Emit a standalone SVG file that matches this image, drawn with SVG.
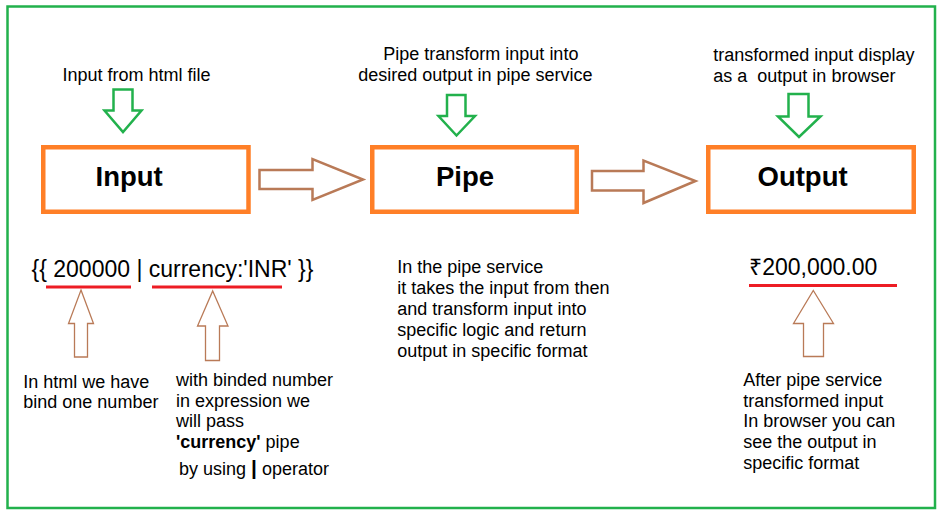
<svg xmlns="http://www.w3.org/2000/svg" width="944" height="518" viewBox="0 0 944 518">
<style>
text{font-family:"Liberation Sans",Arial,"Noto Sans",sans-serif;fill:#000}
.t{font-size:18px}
.big{font-size:23px}
.h{font-size:27.5px;font-weight:bold}
.box{fill:#fff;stroke:#ff7f27;stroke-width:4.5}
.ga{fill:#fff;stroke:#22b14c;stroke-width:2.5}
.ba{fill:#fff;stroke:#b97a57;stroke-width:2.5}
.ua{fill:#fff;stroke:#b97a57;stroke-width:1.3}
.red{stroke:#ed1c24;stroke-width:3}
</style>
<rect x="0" y="0" width="944" height="518" fill="#fff"/>
<rect x="7.5" y="6.5" width="927.5" height="501.5" fill="none" stroke="#22b14c" stroke-width="2.5"/>

<g id="input">
<rect class="box" x="43.25" y="147.25" width="205.25" height="64.5"/>
<text class="h" x="95.5" y="185.5">Input</text>
</g>
<g id="pipe">
<rect class="box" x="372.25" y="147.25" width="204.5" height="64.5"/>
<text class="h" x="436" y="185.5">Pipe</text>
</g>
<g id="output">
<rect class="box" x="708.25" y="147.25" width="205.5" height="64.5"/>
<text class="h" x="757.5" y="185.5">Output</text>
</g>

<g id="connectors">
<polygon class="ga" points="113.5,89.5 132.5,89.5 132.5,110.5 141.5,110.5 123,132 104.5,110.5 113.5,110.5"/>
<polygon class="ga" points="447,95 465.5,95 465.5,116 475,116 456.5,135.5 438.5,116 447,116"/>
<polygon class="ga" points="788.5,94 808.5,94 808.5,116.5 820.5,116.5 799,137 778,116.5 788.5,116.5"/>
<polygon class="ba" points="259.5,170 312.5,170 312.5,159 363,179.5 312.5,200 312.5,189 259.5,189"/>
<polygon class="ba" points="592,171 643.5,171 643.5,160.5 695.5,181 643.5,203 643.5,190.5 592,190.5"/>
<polygon class="ua" points="81,290 93.5,323.5 87.5,323.5 87.5,357 74.5,357 74.5,323.5 68.5,323.5"/>
<polygon class="ua" points="212.7,291 228,326 219.5,326 219.5,360.5 205.5,360.5 205.5,326 197.5,326"/>
<polygon class="ua" points="813.3,290.5 833.5,323.5 823.5,323.5 823.5,356.5 803.5,356.5 803.5,323.5 793.5,323.5"/>
<line class="red" x1="46" y1="287" x2="131" y2="287"/>
<line class="red" x1="152" y1="287" x2="282" y2="287"/>
<line class="red" x1="749" y1="285.5" x2="897" y2="285.5"/>
</g>

<g id="labels">
<text class="t" x="62.5" y="80.5">Input from html file</text>
<text class="t" x="383.3" y="60">Pipe transform input into</text>
<text class="t" x="358.3" y="80.5">desired output in pipe service</text>
<text class="t" x="713.3" y="61">transformed input display</text>
<text class="t" x="713.3" y="81.5" xml:space="preserve">as a  output in browser</text>

<text class="big" x="31.5" y="276.5">{{ 200000 | currency:'INR' }}</text>
<text class="big" x="749" y="275">₹200,000.00</text>

<text class="t" x="23.3" y="387.5">In html we have</text>
<text class="t" x="23.3" y="408.3">bind one number</text>

<text class="t" x="176" y="386">with binded number</text>
<text class="t" x="176" y="406.7">in expression we</text>
<text class="t" x="176" y="427.3">will pass</text>
<text class="t" x="176" y="448.3"><tspan font-weight="bold">'currency'</tspan> pipe</text>
<text class="t" x="179" y="474.5">by using <tspan font-weight="bold" font-size="21px">|</tspan> operator</text>

<text class="t" x="397.3" y="273.3">In the pipe service</text>
<text class="t" x="397.3" y="294.3">it takes the input from then</text>
<text class="t" x="397.3" y="315">and transform input into</text>
<text class="t" x="397.3" y="335.8">specific logic and return</text>
<text class="t" x="397.3" y="356.6">output in specific format</text>

<text class="t" x="743.3" y="385.7">After pipe service</text>
<text class="t" x="743.3" y="406.5">transformed input</text>
<text class="t" x="743.3" y="427.3">In browser you can</text>
<text class="t" x="743.3" y="448.1">see the output in</text>
<text class="t" x="743.3" y="468.9">specific format</text>
</g>
</svg>
